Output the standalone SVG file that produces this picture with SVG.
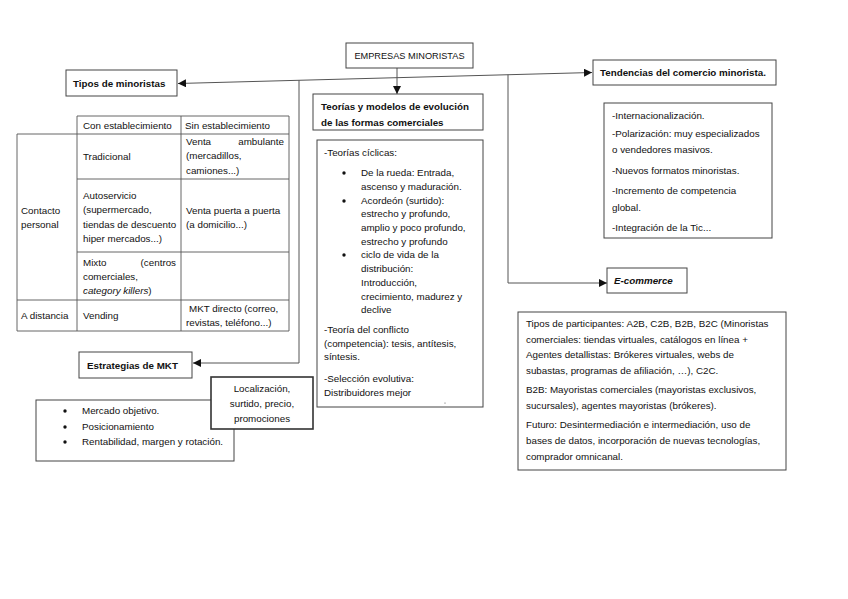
<svg xmlns="http://www.w3.org/2000/svg" width="848" height="599" viewBox="0 0 848 599">
<style>
  text { font-family: "Liberation Sans", Arial, sans-serif; font-size: 9.8px; fill: #111; }
  .b { font-weight: bold; }
  .i { font-style: italic; }
  .t { font-size: 9.2px; }
  .box { fill: #fff; stroke: #444; stroke-width: 1; }
  .tl { stroke: #555; stroke-width: 0.9; fill: none; }
  .con { stroke: #555; stroke-width: 1; fill: none; }
  .dot { fill: #111; }
</style>
<defs>
  <marker id="arr" viewBox="0 0 10 10" refX="10" refY="5" markerWidth="8" markerHeight="8" markerUnits="userSpaceOnUse" orient="auto-start-reverse">
    <path d="M0,0 L10,5 L0,10 z" fill="#111"/>
  </marker>
</defs>
<rect width="848" height="599" fill="#fff"/>

<g id="connectors">
  <line class="con" x1="178" y1="83.5" x2="592" y2="72.5" marker-start="url(#arr)" marker-end="url(#arr)"/>
  <line class="con" x1="397" y1="68" x2="397" y2="94" marker-end="url(#arr)"/>
  <path class="con" d="M299,80.3 V363 H193" marker-end="url(#arr)"/>
  <path class="con" d="M508,74.7 V283 H607" marker-end="url(#arr)"/>
  <line class="con" x1="211" y1="400" x2="162" y2="428"/>
</g>

<g id="empresas-minoristas">
  <rect class="box" x="346" y="43" width="127" height="25"/>
  <text class="t" x="409.5" y="59" text-anchor="middle">EMPRESAS MINORISTAS</text>
</g>

<g id="tipos-minoristas">
  <rect class="box" x="66" y="70" width="111" height="26"/>
  <text class="b" x="73" y="87">Tipos de minoristas</text>
</g>

<g id="tendencias">
  <rect class="box" x="593" y="60" width="183" height="25"/>
  <text class="b" x="600" y="76">Tendencias del comercio minorista.</text>
</g>

<g id="teorias">
  <rect class="box" x="313" y="94" width="170" height="36"/>
  <text class="b" x="321" y="110">Teorías y modelos de evolución</text>
  <text class="b" x="321" y="126">de las formas comerciales</text>
</g>

<g id="teorias-detalle">
  <rect class="box" x="317" y="140" width="166" height="267"/>
  <text x="324" y="156">-Teorías cíclicas:</text>
  <circle class="dot" cx="344" cy="173" r="1.7"/>
  <text x="361" y="176">De la rueda: Entrada,</text>
  <text x="361" y="190">ascenso y maduración.</text>
  <circle class="dot" cx="344" cy="201" r="1.7"/>
  <text x="361" y="204">Acordeón (surtido):</text>
  <text x="361" y="217">estrecho y profundo,</text>
  <text x="361" y="231">amplio y poco profundo,</text>
  <text x="361" y="245">estrecho y profundo</text>
  <circle class="dot" cx="344" cy="255" r="1.7"/>
  <text x="361" y="258">ciclo de vida de la</text>
  <text x="361" y="272">distribución:</text>
  <text x="361" y="286">Introducción,</text>
  <text x="361" y="300">crecimiento, madurez y</text>
  <text x="361" y="313">declive</text>
  <text x="324" y="333">-Teoría del conflicto</text>
  <text x="324" y="347">(competencia): tesis, antítesis,</text>
  <text x="324" y="360">síntesis.</text>
  <text x="324" y="382">-Selección evolutiva:</text>
  <text x="324" y="396">Distribuidores mejor</text>
  <circle cx="445" cy="403" r="0.6" fill="#555"/>
</g>

<g id="tendencias-lista">
  <rect class="box" x="604" y="103" width="168" height="135"/>
  <text x="612" y="119">-Internacionalización.</text>
  <text x="612" y="137">-Polarización: muy especializados</text>
  <text x="612" y="153">o vendedores masivos.</text>
  <text x="612" y="174">-Nuevos formatos minoristas.</text>
  <text x="612" y="194">-Incremento de competencia</text>
  <text x="612" y="211">global.</text>
  <text x="612" y="231">-Integración de la Tic...</text>
</g>

<g id="e-commerce">
  <rect class="box" x="607" y="268" width="80" height="25"/>
  <text class="b i" x="614" y="284">E-commerce</text>
</g>

<g id="e-commerce-detalle">
  <rect class="box" x="518" y="312" width="268" height="158"/>
  <text x="526" y="327">Tipos de participantes: A2B, C2B, B2B, B2C (Minoristas</text>
  <text x="526" y="343">comerciales: tiendas virtuales, catálogos en línea  +</text>
  <text x="526" y="358">Agentes detallistas: Brókeres virtuales, webs de</text>
  <text x="526" y="374">subastas, programas de afiliación, …), C2C.</text>
  <text x="526" y="393">B2B: Mayoristas comerciales (mayoristas  exclusivos,</text>
  <text x="526" y="409">sucursales), agentes mayoristas (brókeres).</text>
  <text x="526" y="428">Futuro: Desintermediación e intermediación, uso de</text>
  <text x="526" y="444">bases de datos, incorporación de nuevas tecnologías,</text>
  <text x="526" y="460">comprador omnicanal.</text>
</g>

<g id="tabla-minoristas">
  <path class="tl" d="M77,116 H289 M17,134 H289 M77,179 H289 M77,252 H289 M17,300 H289 M17,331 H289 M17,134 V331 M77,116 V331 M181,116 V331 M289,116 V331"/>
  <text x="83" y="129">Con establecimiento</text>
  <text x="185" y="129">Sin establecimiento</text>
  <text x="83" y="160">Tradicional</text>
  <text x="186" y="145">Venta</text>
  <text x="284" y="145" text-anchor="end">ambulante</text>
  <text x="186" y="159">(mercadillos,</text>
  <text x="186" y="174">camiones...)</text>
  <text x="21" y="214">Contacto</text>
  <text x="21" y="228">personal</text>
  <text x="83" y="199">Autoservicio</text>
  <text x="83" y="213">(supermercado,</text>
  <text x="83" y="228">tiendas de descuento</text>
  <text x="83" y="242">hiper mercados...)</text>
  <text x="186" y="214">Venta puerta a puerta</text>
  <text x="186" y="228">(a domicilio...)</text>
  <text x="83" y="266">Mixto</text>
  <text x="176" y="266" text-anchor="end">(centros</text>
  <text x="83" y="280">comerciales,</text>
  <text x="83" y="294"><tspan class="i">category killers</tspan>)</text>
  <text x="21" y="319">A distancia</text>
  <text x="83" y="319">Vending</text>
  <text x="189" y="312">MKT directo (correo,</text>
  <text x="186" y="326">revistas, teléfono...)</text>
</g>

<g id="estrategias-mkt">
  <rect class="box" x="79" y="352" width="113" height="26"/>
  <text class="b" x="87" y="369">Estrategias de MKT</text>
</g>

<g id="estrategias-lista">
  <rect class="box" x="36" y="400" width="198" height="61"/>
  <circle class="dot" cx="65" cy="411" r="1.7"/>
  <text x="82" y="414">Mercado objetivo.</text>
  <circle class="dot" cx="65" cy="427" r="1.7"/>
  <text x="82" y="430">Posicionamiento</text>
  <circle class="dot" cx="65" cy="442" r="1.7"/>
  <text x="82" y="445">Rentabilidad, margen y rotación.</text>
</g>

<g id="localizacion">
  <rect x="211" y="377" width="102" height="52" fill="#fff" stroke="#333" stroke-width="1.6"/>
  <text x="262" y="392" text-anchor="middle">Localización,</text>
  <text x="262" y="407" text-anchor="middle">surtido, precio,</text>
  <text x="262" y="422" text-anchor="middle">promociones</text>
</g>
</svg>
